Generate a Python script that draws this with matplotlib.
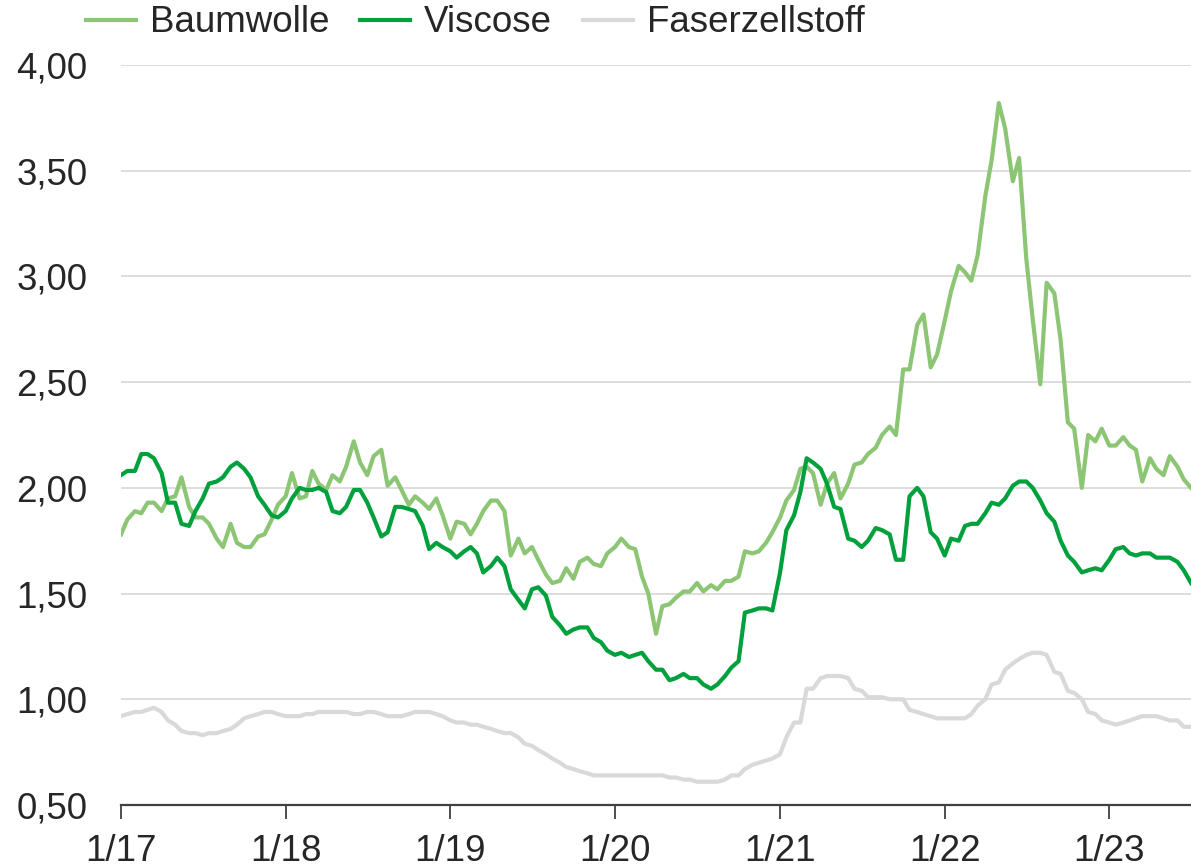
import numpy as np
import pandas as pd
import matplotlib
matplotlib.use("Agg")
import matplotlib.pyplot as plt
import matplotlib.dates as mdates

plt.rcParams['font.family'] = ['Liberation Sans', 'DejaVu Sans']

# half-monthly observations, 1/2017 .. 7/2023
dates = pd.date_range('2017-01-01', periods=157, freq='SMS')

baumwolle = [
    1.78, 1.85, 1.89, 1.88, 1.93, 1.93, 1.89, 1.95, 1.96, 2.05,   # 0
    1.91, 1.86, 1.86, 1.83, 1.76, 1.72, 1.83, 1.74, 1.72, 1.72,   # 10
    1.77, 1.78, 1.85, 1.92, 1.96, 2.07, 1.95, 1.96, 2.08, 2.02,   # 20
    1.99, 2.06, 2.03, 2.10, 2.22, 2.12, 2.06, 2.15, 2.18, 2.01,   # 30
    2.05, 1.99, 1.92, 1.96, 1.93, 1.90, 1.95, 1.87, 1.76, 1.84,   # 40
    1.83, 1.78, 1.83, 1.89, 1.94, 1.94, 1.89, 1.68, 1.76, 1.69,   # 50
    1.72, 1.66, 1.59, 1.55, 1.56, 1.62, 1.57, 1.65, 1.67, 1.64,   # 60
    1.63, 1.69, 1.72, 1.76, 1.72, 1.71, 1.58, 1.50, 1.31, 1.44,   # 70
    1.45, 1.48, 1.51, 1.51, 1.55, 1.51, 1.54, 1.52, 1.56, 1.56,   # 80
    1.58, 1.70, 1.69, 1.70, 1.74, 1.79, 1.86, 1.94, 1.99, 2.09,   # 90
    2.10, 2.07, 1.92, 2.02, 2.07, 1.95, 2.02, 2.11, 2.12, 2.16,   # 100
    2.19, 2.25, 2.29, 2.25, 2.56, 2.56, 2.77, 2.82, 2.57, 2.63,   # 110
    2.79, 2.93, 3.05, 3.02, 2.98, 3.10, 3.38, 3.55, 3.82, 3.70,   # 120
    3.45, 3.56, 3.08, 2.80, 2.49, 2.97, 2.92, 2.70, 2.31, 2.28,   # 130
    2.00, 2.25, 2.22, 2.28, 2.20, 2.20, 2.24, 2.20, 2.18, 2.03,   # 140
    2.14, 2.09, 2.06, 2.15, 2.10, 2.04, 2.00,                     # 150
]

viscose = [
    2.06, 2.08, 2.08, 2.16, 2.16, 2.14, 2.07, 1.93, 1.93, 1.83,   # 0
    1.82, 1.89, 1.95, 2.02, 2.03, 2.05, 2.10, 2.12, 2.09, 2.05,   # 10
    1.96, 1.92, 1.87, 1.86, 1.89, 1.95, 2.00, 1.99, 1.99, 2.00,   # 20
    1.98, 1.89, 1.88, 1.91, 1.99, 1.99, 1.93, 1.86, 1.77, 1.79,   # 30
    1.91, 1.91, 1.90, 1.89, 1.82, 1.71, 1.74, 1.72, 1.70, 1.67,   # 40
    1.70, 1.72, 1.69, 1.60, 1.63, 1.67, 1.63, 1.52, 1.47, 1.43,   # 50
    1.52, 1.53, 1.49, 1.39, 1.35, 1.31, 1.33, 1.34, 1.34, 1.29,   # 60
    1.27, 1.23, 1.21, 1.22, 1.20, 1.21, 1.22, 1.18, 1.14, 1.14,   # 70
    1.09, 1.10, 1.12, 1.10, 1.10, 1.07, 1.05, 1.07, 1.11, 1.15,   # 80
    1.18, 1.41, 1.42, 1.43, 1.43, 1.42, 1.60, 1.80, 1.87, 1.98,   # 90
    2.14, 2.12, 2.09, 2.02, 1.91, 1.90, 1.76, 1.75, 1.72, 1.75,   # 100
    1.81, 1.80, 1.78, 1.66, 1.66, 1.96, 2.00, 1.96, 1.79, 1.76,   # 110
    1.68, 1.76, 1.75, 1.82, 1.83, 1.83, 1.88, 1.93, 1.92, 1.95,   # 120
    2.01, 2.03, 2.03, 2.00, 1.94, 1.88, 1.84, 1.75, 1.68, 1.65,   # 130
    1.60, 1.61, 1.62, 1.61, 1.66, 1.71, 1.72, 1.69, 1.68, 1.69,   # 140
    1.69, 1.67, 1.67, 1.67, 1.65, 1.61, 1.55,                     # 150
]

faserzellstoff = [
    0.92, 0.93, 0.94, 0.94, 0.95, 0.96, 0.94, 0.90, 0.88, 0.85,   # 0
    0.84, 0.84, 0.83, 0.84, 0.84, 0.85, 0.86, 0.88, 0.91, 0.92,   # 10
    0.93, 0.94, 0.94, 0.93, 0.92, 0.92, 0.92, 0.93, 0.93, 0.94,   # 20
    0.94, 0.94, 0.94, 0.94, 0.93, 0.93, 0.94, 0.94, 0.93, 0.92,   # 30
    0.92, 0.92, 0.93, 0.94, 0.94, 0.94, 0.93, 0.92, 0.90, 0.89,   # 40
    0.89, 0.88, 0.88, 0.87, 0.86, 0.85, 0.84, 0.84, 0.82, 0.79,   # 50
    0.78, 0.76, 0.74, 0.72, 0.70, 0.68, 0.67, 0.66, 0.65, 0.64,   # 60
    0.64, 0.64, 0.64, 0.64, 0.64, 0.64, 0.64, 0.64, 0.64, 0.64,   # 70
    0.63, 0.63, 0.62, 0.62, 0.61, 0.61, 0.61, 0.61, 0.62, 0.64,   # 80
    0.64, 0.67, 0.69, 0.70, 0.71, 0.72, 0.74, 0.82, 0.89, 0.89,   # 90
    1.05, 1.05, 1.10, 1.11, 1.11, 1.11, 1.10, 1.05, 1.04, 1.01,   # 100
    1.01, 1.01, 1.00, 1.00, 1.00, 0.95, 0.94, 0.93, 0.92, 0.91,   # 110
    0.91, 0.91, 0.91, 0.91, 0.93, 0.97, 1.00, 1.07, 1.08, 1.14,   # 120
    1.17, 1.19, 1.21, 1.22, 1.22, 1.21, 1.13, 1.12, 1.04, 1.03,   # 130
    1.00, 0.94, 0.93, 0.90, 0.89, 0.88, 0.89, 0.90, 0.91, 0.92,   # 140
    0.92, 0.92, 0.91, 0.90, 0.90, 0.87, 0.87,                     # 150
]

year_ticks = pd.date_range('2017-01-01', '2023-01-01', freq='YS')
year_labels = ['1/17', '1/18', '1/19', '1/20', '1/21', '1/22', '1/23']
y_ticks = [0.5, 1.0, 1.5, 2.0, 2.5, 3.0, 3.5, 4.0]

fs = 26.5

fig = plt.figure(figsize=(11.91, 8.68), dpi=100)
ax = fig.add_axes([121 / 1191, 63 / 868, 1 - 121 / 1191, 740 / 868])

ax.plot(dates, baumwolle, color='#8cc574', lw=3.0, label='Baumwolle', solid_joinstyle='round')
ax.plot(dates, viscose, color='#00a03c', lw=3.0, label='Viscose', solid_joinstyle='round')
ax.plot(dates, faserzellstoff, color='#d9d9d9', lw=3.0, label='Faserzellstoff', solid_joinstyle='round')

ax.set_xlim(dates[0], dates[-1])
ax.set_ylim(0.5, 4.0)

ax.set_yticks(y_ticks)
ax.set_yticklabels([f"{v:.2f}".replace('.', ',') for v in y_ticks])
ax.set_xticks(year_ticks)
ax.set_xticklabels(year_labels)

# Gitterlinien nur horizontal
for v in y_ticks[1:]:
    ax.axhline(v, color='#d3d3d3', lw=1.1, zorder=0)

for s in ['top', 'right', 'left']:
    ax.spines[s].set_visible(False)
ax.spines['bottom'].set_color('#404040')
ax.spines['bottom'].set_linewidth(1.6)

ax.tick_params(axis='y', length=0, pad=24, labelsize=fs, labelcolor='#262626')
ax.tick_params(axis='x', length=10, width=1.3, color='#404040', pad=11,
               labelsize=fs, labelcolor='#262626')

ax.legend(loc='center left', bbox_to_anchor=(86 / 1191, 1 - 23 / 868),
          bbox_transform=fig.transFigure, ncol=3, frameon=False,
          fontsize=fs, handlelength=1.35, handletextpad=0.38, columnspacing=0.85,
          borderpad=0.0, borderaxespad=0.0, labelcolor='#262626')

fig.savefig('out.png', dpi=100)
